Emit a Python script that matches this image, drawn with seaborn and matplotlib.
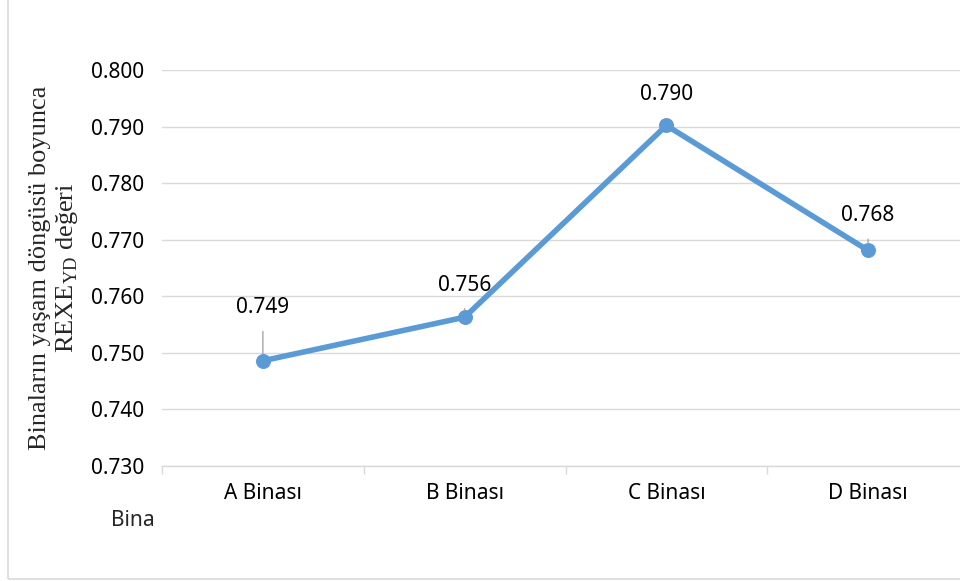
import pandas as pd
import matplotlib.pyplot as plt
import seaborn as sns
from matplotlib.patches import Rectangle
from matplotlib.ticker import FixedLocator, NullFormatter

buildings = ['A Binası', 'B Binası', 'C Binası', 'D Binası']
rexe_values = [0.7486, 0.7563, 0.7902, 0.7681]
value_labels = ['0.749', '0.756', '0.790', '0.768']
y_ticks = [0.730, 0.740, 0.750, 0.760, 0.770, 0.780, 0.790, 0.800]

df = pd.DataFrame({'bina': buildings, 'rexe': rexe_values})

sns.set_theme(style='white')
plt.rcParams['font.family'] = ['Noto Sans', 'DejaVu Sans']
plt.rcParams['mathtext.fontset'] = 'custom'
plt.rcParams['mathtext.rm'] = 'Liberation Serif'

fig = plt.figure(figsize=(9.6, 5.81), dpi=100)
ax = fig.add_axes([162 / 960, 1 - 466 / 581, (969 - 162) / 960, (466 - 70) / 581])

sns.lineplot(data=df, x='bina', y='rexe', ax=ax, color='#5B9BD5', linewidth=4,
             marker='o', markersize=10, markeredgecolor='#5B9BD5', zorder=3)

ax.set_xlim(-0.5, 3.5)
ax.set_ylim(0.730, 0.800)
ax.set_yticks(y_ticks)
ax.set_yticklabels([f'{v:.3f}' for v in y_ticks], fontsize=15, color='#000000')
ax.yaxis.grid(True, color='#D9D9D9', linewidth=1)
ax.tick_params(axis='y', length=0, pad=13)

ax.set_xticks(range(len(buildings)))
ax.set_xticklabels(buildings, fontsize=15, color='#000000')
ax.xaxis.set_minor_locator(FixedLocator([-0.5, 0.5, 1.5, 2.5, 3.5]))
ax.xaxis.set_minor_formatter(NullFormatter())
ax.tick_params(axis='x', which='major', length=0, pad=12)
ax.tick_params(axis='x', which='minor', bottom=True, length=6, width=1, color='#D9D9D9', direction='out')

for side in ['top', 'right', 'left']:
    ax.spines[side].set_visible(False)
ax.spines['bottom'].set_color('#D9D9D9')
ax.spines['bottom'].set_linewidth(1)

ax.set_xlabel('')
ax.set_ylabel('Binaların yaşam döngüsü boyunca\nREXE$_{\\mathrm{YD}}$ değeri',
              family='Liberation Serif', fontsize=19, linespacing=1.15, labelpad=8)

# data labels with leader lines
offsets = [38, 23, 22, 25]
for i, (v, lab) in enumerate(zip(rexe_values, value_labels)):
    ax.annotate(lab, xy=(i, v), xytext=(0, offsets[i]), textcoords='offset points',
                ha='center', va='center', fontsize=15, color='#000000',
                arrowprops=dict(arrowstyle='-', color='#A6A6A6', lw=1,
                                shrinkA=7, shrinkB=5))

fig.text(133 / 960, 1 - 521 / 581, 'Bina', ha='center', va='center', fontsize=15)

fig.patches.append(Rectangle((8 / 960, 2 / 581), 1.2, 1.0, transform=fig.transFigure,
                             fill=False, edgecolor='#D9D9D9', linewidth=1.2, zorder=0))

fig.savefig('out.png', dpi=100)
